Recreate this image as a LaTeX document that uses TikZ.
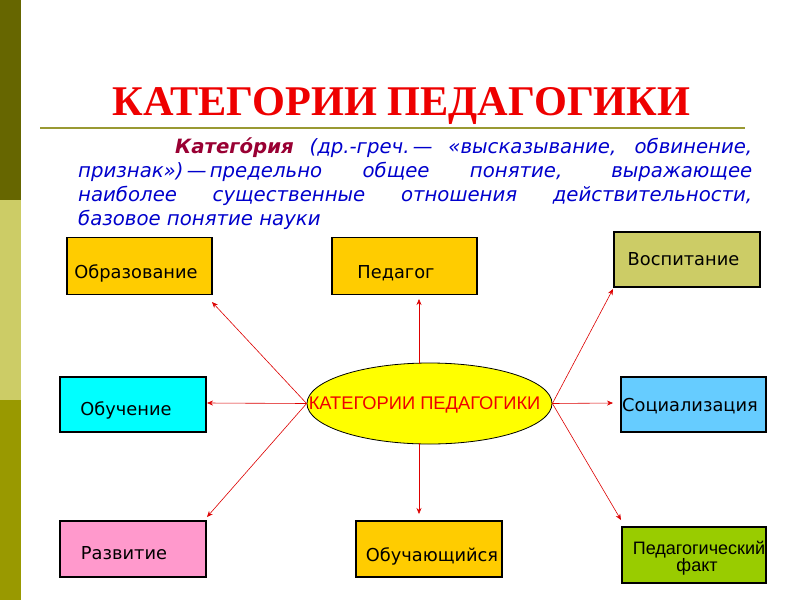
\documentclass[tikz,border=0pt]{standalone}
\usepackage{fontspec}
\setmainfont{DejaVu Sans}
\newfontfamily\titlefont{Liberation Serif}
\newfontfamily\arialfont{Liberation Sans}
\usetikzlibrary{shapes.geometric,arrows.meta,calc}
\definecolor{bardark}{HTML}{666600}
\definecolor{barlight}{HTML}{CCCC66}
\definecolor{barolive}{HTML}{999900}
\definecolor{ruleol}{HTML}{999933}
\definecolor{titlered}{HTML}{EE0000}
\definecolor{parblue}{HTML}{0000CC}
\definecolor{katred}{HTML}{990033}
\definecolor{gold}{HTML}{FFCC00}
\definecolor{oliveb}{HTML}{CCCC66}
\definecolor{cyanb}{HTML}{00FFFF}
\definecolor{skyb}{HTML}{66CCFF}
\definecolor{pinkb}{HTML}{FF99CC}
\definecolor{greenb}{HTML}{99CC00}
\definecolor{ellyel}{HTML}{FFFF00}
\definecolor{arrred}{HTML}{DD0000}
\begin{document}
\begin{tikzpicture}[x=1pt,y=-1pt,
  catbox/.style={draw=black, line width=1.1pt, rectangle, inner sep=0pt},
  boxtext/.style={inner sep=0pt, anchor=base, font=\fontsize{17.8}{17.8}\selectfont},
  arr/.style={draw=arrred, line width=0.6pt, -{Stealth[length=6pt,width=5pt]}}]
\useasboundingbox (0,0) rectangle (800,600);
\fill[white] (0,0) rectangle (800,600);
% left bar
\fill[bardark] (0,0) rectangle (21,200);
\fill[barlight] (0,200) rectangle (21,400);
\fill[barolive] (0,400) rectangle (21,600);
% title
\node[anchor=base, inner sep=0pt, text=titlered, font=\titlefont\bfseries\fontsize{42.3}{42.3}\selectfont] (title) at (401.5,115) {КАТЕГОРИИ ПЕДАГОГИКИ};
\coordinate (rl) at (40,128);
\coordinate (rr) at (745,128);
\draw[ruleol, line width=2.5pt] (rl) -- (rr);
% definition paragraph
\node[anchor=north west, inner sep=0pt, text width=674pt, align=justify, text=parblue,
  font=\itshape\fontsize{19.7}{24}\selectfont] (def) at (78,137)
  {\rule{0pt}{16pt}\hspace*{97pt}{\bfseries\color{katred}Катего́рия} (др.-греч.\,— «высказывание, обвинение,\linebreak
   признак»)\,—\,предельно общее понятие, выражающее\linebreak
   наиболее существенные отношения действительности,\linebreak
   базовое понятие науки};
% boxes
\node[catbox, fill=gold, minimum width=145pt, minimum height=57pt] (obr) at (139.5,266) {};
\node[catbox, fill=gold, minimum width=145pt, minimum height=57pt] (ped) at (404.5,266) {};
\node[catbox, fill=oliveb, minimum width=146pt, minimum height=55pt] (vos) at (687,259.5) {};
\node[catbox, fill=cyanb, minimum width=146pt, minimum height=55pt] (obu) at (133,404.5) {};
\node[catbox, fill=skyb, minimum width=145pt, minimum height=55pt] (soc) at (693.5,404.5) {};
\node[catbox, fill=pinkb, minimum width=146pt, minimum height=56pt] (raz) at (133,549) {};
\node[catbox, fill=gold, minimum width=146pt, minimum height=56pt] (obch) at (429,549) {};
\node[catbox, fill=greenb, minimum width=144pt, minimum height=56pt] (fakt) at (694,555) {};
% box texts
\node[boxtext] (tobr) at (136,278) {Образование};
\node[boxtext] (tped) at (396,278) {Педагог};
\node[boxtext] (tvos) at (683.5,265) {Воспитание};
\node[boxtext] (tobu) at (126,415) {Обучение};
\node[boxtext] (tsoc) at (690,411) {Социализация};
\node[boxtext] (traz) at (124,559) {Развитие};
\node[boxtext] (tobch) at (432,561) {Обучающийся};
\node[boxtext, font=\arialfont\fontsize{18}{18}\selectfont] (tfakt1) at (699,554) {Педагогический};
\node[boxtext, font=\arialfont\fontsize{18}{18}\selectfont] (tfakt2) at (697,571) {факт};
% central ellipse
\node[ellipse, draw=black, line width=0.8pt, fill=ellyel, minimum width=245pt, minimum height=81pt, inner sep=0pt] (c) at (429.5,403.5) {};
\node[inner sep=0pt, anchor=base, text=titlered, font=\arialfont\fontsize{18.3}{18.3}\selectfont] (ctext) at (424.5,409) {КАТЕГОРИИ ПЕДАГОГИКИ};
% arrow ends
\coordinate (cu) at (419,363.6);
\coordinate (cd) at (419,443.4);
\coordinate (eobr) at (212,302);
\coordinate (eobu) at (207,403);
\coordinate (eraz) at (207,517);
\coordinate (eped) at (419,299);
\coordinate (eobch) at (419,514);
\coordinate (evos) at (613,289);
\coordinate (esoc) at (613,403);
\coordinate (efakt) at (621,520);
\draw[arr] (c.west) -- (eobr);
\draw[arr] (c.west) -- (eobu);
\draw[arr] (c.west) -- (eraz);
\draw[arr] (cu) -- (eped);
\draw[arr] (cd) -- (eobch);
\draw[arr] (c.east) -- (evos);
\draw[arr] (c.east) -- (esoc);
\draw[arr] (c.east) -- (efakt);
\end{tikzpicture}
\end{document}
